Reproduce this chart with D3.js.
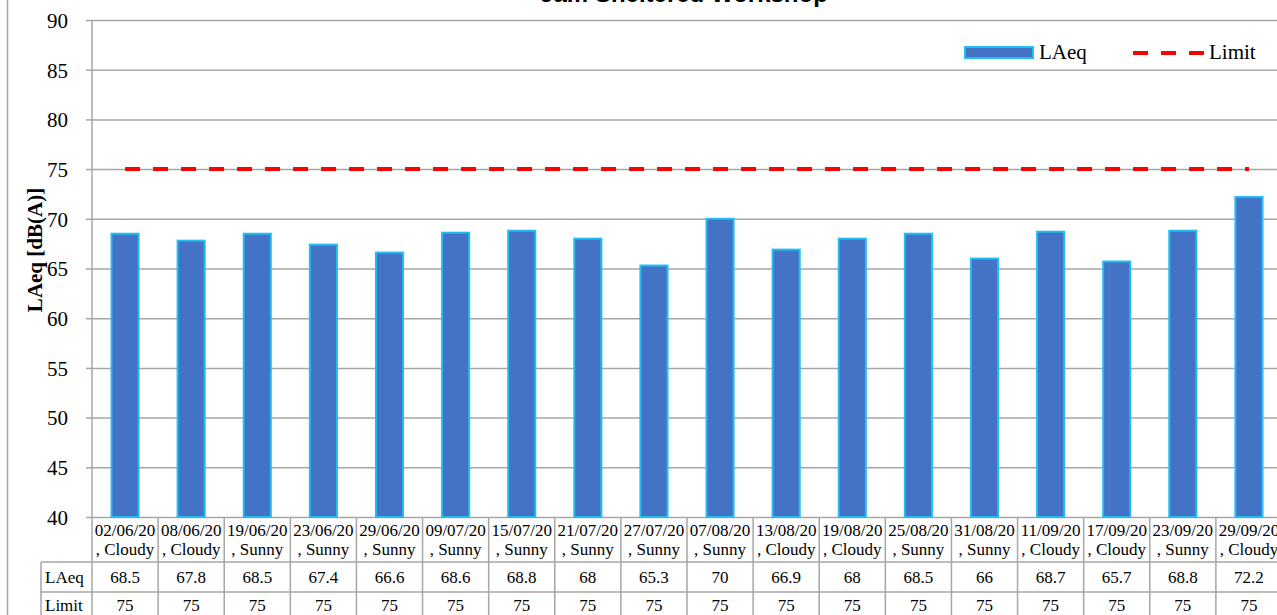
<!DOCTYPE html>
<html><head><meta charset="utf-8">
<script src="https://cdn.jsdelivr.net/npm/d3@7"></script>
<style>
html,body{margin:0;padding:0;background:#fff;overflow:hidden}
svg{display:block}
</style></head>
<body><svg id="c" width="1277" height="615"></svg>
<script>
const title = "Jam Sheltered Workshop";
const dates = ["02/06/20","08/06/20","19/06/20","23/06/20","29/06/20","09/07/20","15/07/20","21/07/20","27/07/20","07/08/20","13/08/20","19/08/20","25/08/20","31/08/20","11/09/20","17/09/20","23/09/20","29/09/20"];
const weather = ["Cloudy","Cloudy","Sunny","Sunny","Sunny","Sunny","Sunny","Sunny","Sunny","Sunny","Cloudy","Cloudy","Sunny","Sunny","Cloudy","Cloudy","Sunny","Cloudy"];
const laeq = [68.5,67.8,68.5,67.4,66.6,68.6,68.8,68,65.3,70,66.9,68,68.5,66,68.7,65.7,68.8,72.2];
const limit = [75,75,75,75,75,75,75,75,75,75,75,75,75,75,75,75,75,75];
const yTicks = [40,45,50,55,60,65,70,75,80,85,90];

(function(){
const svg = d3.select("#c");
const serif = "'Liberation Serif','Times New Roman',serif";
const grid = "#a6a6a6";
const pL = 92, pR = 1282, pT = 20, pB = 517;

const x = d3.scaleBand().domain(dates).range([pL, pR]).padding(0);
const y = d3.scaleLinear().domain([40, 90]).range([pB, pT]);
const bw = x.bandwidth();

// outer border
svg.append("line").attr("x1",7.5).attr("x2",7.5).attr("y1",0).attr("y2",615).attr("stroke",grid).attr("stroke-width",1.5);

// title
svg.append("text").attr("x",684).attr("y",2).attr("text-anchor","middle")
  .attr("font-family","'Liberation Sans',Arial,sans-serif").attr("font-weight","bold").attr("font-size",24)
  .text(title);

// gridlines + y axis
const yAxis = d3.axisLeft(y).tickValues(yTicks).tickSize(-(pR-pL)).tickPadding(0).tickFormat(d3.format("d"));
const ga = svg.append("g").attr("transform",`translate(${pL},0)`).call(yAxis);
ga.select(".domain").remove();
ga.selectAll(".tick line").attr("stroke",grid).attr("stroke-width",1.5);
ga.selectAll(".tick").append("line").attr("x1",-6).attr("x2",0).attr("stroke",grid).attr("stroke-width",1.5);
ga.selectAll(".tick text").attr("x",-24).attr("dy","0.35em").attr("font-family",serif).attr("font-size",21).attr("fill","#000");
svg.append("line").attr("x1",pL).attr("x2",pL).attr("y1",pT).attr("y2",pB).attr("stroke",grid).attr("stroke-width",1.5);

// y title
svg.append("text").attr("transform","translate(42,250) rotate(-90)").attr("text-anchor","middle")
  .attr("font-family",serif).attr("font-weight","bold").attr("font-size",21).text("LAeq [dB(A)]");

// bars
const barW = bw*0.41;
svg.append("g").selectAll("rect").data(laeq).join("rect")
  .attr("x",(d,i)=>x(dates[i])+(bw-barW)/2)
  .attr("y",d=>y(d))
  .attr("width",barW)
  .attr("height",d=>y(40)-y(d))
  .attr("fill","#4472C4").attr("stroke","#22BDF2").attr("stroke-width",2);

// limit line
const line = d3.line().x((d,i)=>x(dates[i])+bw/2).y(d=>y(d));
svg.append("path").datum(limit).attr("d",line).attr("fill","none")
  .attr("stroke","#FF0000").attr("stroke-width",4).attr("stroke-dasharray","15,13");

// legend
svg.append("rect").attr("x",965).attr("y",47).attr("width",68).attr("height",11)
  .attr("fill","#4472C4").attr("stroke","#22BDF2").attr("stroke-width",2);
svg.append("text").attr("x",1039).attr("y",59).attr("font-family",serif).attr("font-size",21).text("LAeq");
svg.append("line").attr("x1",1133).attr("x2",1204).attr("y1",53).attr("y2",53)
  .attr("stroke","#FF0000").attr("stroke-width",4).attr("stroke-dasharray","15,13");
svg.append("text").attr("x",1209).attr("y",59).attr("font-family",serif).attr("font-size",21).text("Limit");

// data table
const r1 = 562, r2 = 592, r3 = 622, tLeft = 41;
const tb = svg.append("g");
const hl = (y0,x0)=>tb.append("line").attr("x1",x0).attr("x2",pR).attr("y1",y0).attr("y2",y0).attr("stroke",grid).attr("stroke-width",1.5);
hl(r1,tLeft); hl(r2,tLeft);
tb.append("line").attr("x1",tLeft).attr("x2",tLeft).attr("y1",r1).attr("y2",r3).attr("stroke",grid).attr("stroke-width",1.5);
tb.selectAll("line.v").data(dates.concat(["_end"])).join("line").attr("class","v")
  .attr("x1",(d,i)=>pL+i*bw).attr("x2",(d,i)=>pL+i*bw)
  .attr("y1",pB).attr("y2",r3).attr("stroke",grid).attr("stroke-width",1.5);

const cf = {"font-family":serif,"font-size":17,"text-anchor":"middle"};
function txt(sel){ for(const k in cf) sel.attr(k,cf[k]); return sel; }
txt(tb.selectAll("text.d").data(dates).join("text").attr("class","d")
  .attr("x",d=>x(d)+bw/2).attr("y",536).text(d=>d));
txt(tb.selectAll("text.w").data(weather).join("text").attr("class","w")
  .attr("x",(d,i)=>x(dates[i])+bw/2).attr("y",555).text(d=>", "+d));
txt(tb.selectAll("text.l").data(laeq).join("text").attr("class","l")
  .attr("x",(d,i)=>x(dates[i])+bw/2).attr("y",583).text(d=>d));
txt(tb.selectAll("text.m").data(limit).join("text").attr("class","m")
  .attr("x",(d,i)=>x(dates[i])+bw/2).attr("y",611).text(d=>d));
tb.append("text").attr("x",45).attr("y",583).attr("font-family",serif).attr("font-size",17).text("LAeq");
tb.append("text").attr("x",45).attr("y",611).attr("font-family",serif).attr("font-size",17).text("Limit");
})();
</script></body></html>
